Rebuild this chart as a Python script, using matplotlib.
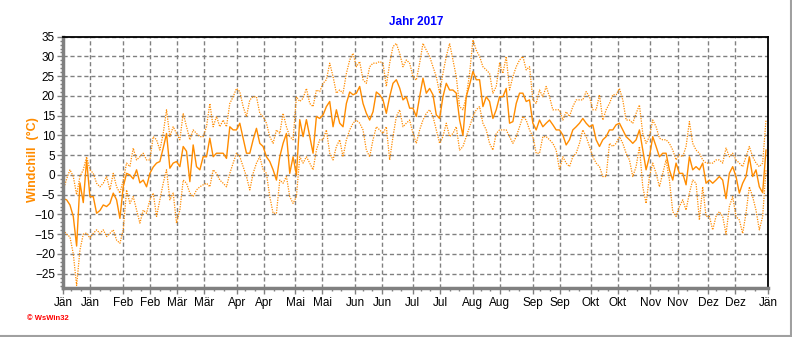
import numpy as np
import matplotlib
matplotlib.use("Agg")
import matplotlib.pyplot as plt
from matplotlib.lines import Line2D

plt.rcParams['font.family'] = ['Liberation Sans', 'DejaVu Sans']

# ---- data (degC), samples evenly spaced from 1 Jan to 31 Dec 2017 ----
mean_vals = [
    -6, -6.3, -7.6, -10.5, -18, -2, -7, 3.8, -5.5, -5.5,
    -9.7, -9, -7.6, -8, -7.2, -4.6, -6.3, -11, -3, 0.4,
    0, -1, 1.3, -2, -1.3, -3, 0.4, 2, 3, 3.4,
    6.8, 10.5, 1.7, 3, 3.4, 2.1, 7.2, 6, -1.7, 7.6,
    2.1, 1.3, 4.6, 4.6, 9.3, 4.6, 5.5, 5.5, 5.5, 4.2,
    12.2, 11.4, 11.4, 13.1, 9.3, 5.5, 5.5, 8.9, 11.8, 8,
    7.2, 4.6, 3.4, 1.3, -1.3, 4.6, 8, 10.5, 0.4, 4.6,
    0, 14, 9.7, 14, 9.7, 5.5, 14.8, 14.3, 15.2, 17.3,
    18.6, 12.2, 16.5, 13.1, 12.2, 18.1, 21, 20.3, 20.7, 22.4,
    18.1, 15.6, 13.9, 16, 21, 20.3, 19, 15.6, 19.8, 23.2,
    24.1, 22, 19, 19.8, 16.9, 16.9, 14.8,
    19.8, 24.5, 20.7, 21.9, 20.3, 15.2, 14.3, 19.8, 23.2, 21.5,
    21.5, 20.7, 13.9, 10, 19.8, 22.8, 26.2, 24.1, 24.1, 17.3,
    19.8, 18.6, 14.3, 16.5, 19.8, 19.8, 21.9, 13.1, 13.5, 18.1,
    20.7, 20.7, 18.6, 19, 13.1, 11.4, 13.9, 12.2, 13.1, 13.9,
    12.7, 11.4, 11.4, 10.1, 7.6, 8.9, 11.4, 12.2, 13.1, 14.3,
    13.1, 12.2, 12.7, 8.9, 7.2, 8.9, 9.7, 11.4, 11.4, 12.7,
    13.1, 11.4, 9.7, 8.9, 8, 8.9, 11.4, 6.3, 1.3, 4.6,
    9.7, 7.2, 4.6, 5.5, 5.5, 1.3, -1.3, 3, 0.4, 0.4,
    -2.5, 4.6, 1.3, 2.1, 1.3, 3, -2.1, -1.3, -2.1, -1.3,
    -0.4, -1.3, -6, 0.4, 2.1, -0.4, -4.6, -2.1, -0.4, 4.6,
    -0.4, 1.3, -3, -4.5, 6.3,
]

max_vals = [
    -3.8, -1, 1.3, -0.4, -5, -0.4, 1.3, 4.6, 1.3, 0.4,
    -2.1, -3, -2.1, -0.4, -3.8, 0.4, -3, -4.6, -1.3, 3,
    2.1, 6.8, 3.8, 4.6, 5.5, 3.8, 3.8, 9.7, 8.9, 6.3,
    10.5, 16.5, 9.7, 12.2, 10.5, 8.9, 15.6, 12.2, 8.9, 11.4,
    10.5, 9.7, 9.7, 12.2, 18.1, 12.2, 14.8, 12.2, 13.9, 12.2,
    18.1, 19.8, 21.9, 21.1, 17.3, 14.8, 19, 19.8, 19.8, 15.6,
    14.8, 13.1, 9.7, 8, 11.4, 10.5, 15.6, 12.2, 9.7, 8.9,
    19.8, 18.6, 19.4, 21.9, 18.1, 17.3, 21.5, 21.1, 23.2, 24.1,
    28.3, 24.9, 20.7, 21.5, 20.7, 25.7, 29.1, 30.8, 27.4, 28.7,
    24.1, 23.2, 27.4, 28.3, 28.3, 28.7, 28.3, 22.4, 28.3, 32.5,
    33.3, 30.8, 27.4, 29.1, 28.3, 24.9, 24,
    28.3, 33.3, 31.6, 30, 27.4, 24.9, 20.7, 25.7, 30, 33.3,
    29.1, 24.9, 17.3, 16.5, 19.8, 25.7, 34.2, 31.6, 30, 27.4,
    26.6, 25.7, 20.7, 22.4, 28.3, 25.7, 30, 21.5, 24.9, 27.4,
    29.1, 30, 26.6, 27.4, 19, 18.1, 21.5, 19.8, 22.4, 19.8,
    16.5, 16.5, 16.5, 13.9, 16, 14.8, 17.3, 19, 19, 19,
    21.1, 19.8, 16.5, 16.5, 20.3, 13.9, 16.5, 18.1, 20.3, 20.3,
    21.9, 19, 13.9, 13.9, 13.1, 15.6, 17.7, 10.5, 8, 9.7,
    13.9, 12.2, 9.3, 8.9, 8.9, 8, 6.3, 3.8, 5.1, 4.6,
    7.2, 13.5, 8, 6.3, 5.5, 3.8, 3, 3, 3, 3.8,
    3.8, 3, 6.8, 4.6, 5.5, 3.8, 3, 2.1, 4.6, 7.2,
    4.6, 3, 2.1, 3, 13.9,
]

min_vals = [
    -14, -15, -15.7, -20, -28, -19, -15, -14.7, -16, -14.8,
    -13.9, -14.8, -13.9, -15.6, -14.8, -13.9, -16.5, -17.3, -13.9, -3.8,
    -7.2, -5.5, -8.9, -12.2, -8.9, -9.7, -6.3, -4.6, -10.5, -6.3,
    -2.1, 1.3, -6.3, -4.6, -12.2, -8.9, -1.3, -2.1, -4.6, -5.5,
    -3.8, -3, -2.5, -2.1, -3, 1.3, 0.4, -1.3, -2.1, -3,
    0.4, 3, 5.5, 4.6, 2.1, -0.4, -3.8, 0.4, 3, 4.6,
    1.3, 0.4, -5.5, -9.7, -9.7, -1.3, -2.1, -0.4, -5.5, -7.2,
    -5.5, 4.6, 3, 4.6, 3, 1.3, 6.3, 8.9, 8.9, 11.4,
    5.5, 3.8, 7.2, 8.9, 4.6, 8.9, 11.4, 13.1, 13.9, 13.1,
    11.4, 6.3, 4.6, 8.9, 12.2, 11.4, 10.5, 12.2, 3.8, 9.7,
    14.8, 16.5, 12.2, 13.1, 13.9, 10.5, 8,
    11.4, 13.9, 15.6, 16.5, 14.8, 11.4, 8, 9.7, 13.1, 9.7,
    10.5, 12.2, 6.3, 7.2, 9.7, 12.2, 14.8, 16.5, 17.3, 13.1,
    11.4, 8, 6.3, 10.5, 11.4, 11.4, 11.4, 9.7, 8, 9.7,
    12.2, 14.8, 13.9, 11.4, 9.7, 5.5, 5.5, 9.7, 9.7, 8.9,
    8, 6.3, 1.3, 4.6, 3, 2.1, 4.6, 5.5, 8, 11.4,
    9.7, 7.2, 4.6, 3, 2.1, -0.4, -0.4, 8, 7.2, 8,
    9.7, 8, 5.5, 3.8, -0.4, 2.1, 7.2, -3, -7.2, -0.4,
    3, 0.4, -3, 0.4, 3.8, -1.3, -9.3, -10.5, -8, -6.3,
    -8.9, -4.6, -1.3, -2.1, -11.4, -3, -10.5, -10.5, -13.9, -10.5,
    -9.3, -10.5, -15, -8, -5.5, -10.5, -11.4, -14.8, -9.7, -3,
    -5.5, -8.9, -13.9, -10.5, 1.3,
]

month_labels = ['Jän', 'Feb', 'Mär', 'Apr', 'Mai', 'Jun', 'Jul', 'Aug',
                'Sep', 'Okt', 'Nov', 'Dez', 'Jän']
month_start = [0, 31, 59, 90, 120, 151, 181, 212, 243, 273, 304, 334, 365]
y_ticks = list(range(-25, 36, 5))

ORANGE = '#ff8c00'
GRID = '#808080'

fig = plt.figure(figsize=(7.92, 3.37), dpi=100)
W, H = 792, 337
x0, x1, ytop, ybot = 63.3, 768.3, 36.7, 288.3
ax = fig.add_axes([x0 / W, 1 - ybot / H, (x1 - x0) / W, (ybot - ytop) / H])

def xs(v):
    return np.linspace(0, 363.8, len(v))

ax.plot(xs(max_vals), max_vals, color=ORANGE, lw=0.9, linestyle=(0, (1, 1)))
ax.plot(xs(min_vals), min_vals, color=ORANGE, lw=0.9, linestyle=(0, (1, 1)))
ax.plot(xs(mean_vals), mean_vals, color=ORANGE, lw=1.0)

ax.set_xlim(0, 365)
ax.set_ylim(-28.7, 35)

major_x, major_lbl = [], []
for i, s in enumerate(month_start):
    major_x.append(s); major_lbl.append(month_labels[i])
    if i < 12:
        major_x.append(s + 14); major_lbl.append(month_labels[i])
ax.set_xticks(major_x)
ax.set_xticklabels(major_lbl)
minor_x = []
for s in month_start[:12]:
    minor_x += [s + 4, s + 9, s + 19, s + 24]
ax.set_xticks(minor_x, minor=True)
ax.set_yticks(y_ticks)
ax.set_yticks(np.arange(-28, 36, 1), minor=True)

ax.tick_params(axis='both', which='major', labelsize=8.5, colors=GRID,
               labelcolor='black', length=4, width=1, direction='out', pad=2)
ax.tick_params(axis='both', which='minor', colors=GRID, length=2, width=1,
               direction='out')

ax.grid(True, which='major', color=GRID, linestyle=(0, (3, 2)), linewidth=1)
ax.set_axisbelow(True)

for side in ('left', 'bottom'):
    ax.spines[side].set_color(GRID)
    ax.spines[side].set_linewidth(2.5)
for side in ('top', 'right'):
    ax.spines[side].set_color('black')
    ax.spines[side].set_linewidth(1.3)

fig.text((x0 + x1) / 2 / W, 1 - 22 / H, 'Jahr 2017', color='#0000ff',
         fontweight='bold', fontsize=8.5, ha='center', va='center')
fig.text(33 / W, 1 - 160 / H, 'Windchill  (°C)', rotation=90, color=ORANGE,
         fontweight='bold', fontsize=9, ha='center', va='center')
fig.text(27 / W, 1 - 319 / H, '© WsWin32', color='red', fontweight='bold',
         fontsize=5.5, ha='left', va='center')

fig.add_artist(Line2D([0, 1], [0.6 / H, 0.6 / H], color='#a0a0a0', lw=1.5,
                      transform=fig.transFigure))
fig.add_artist(Line2D([1 - 1.5 / W, 1 - 1.5 / W], [0, 1], color='#a0a0a0',
                      lw=1.5, transform=fig.transFigure))

fig.savefig('out.png', dpi=100)
